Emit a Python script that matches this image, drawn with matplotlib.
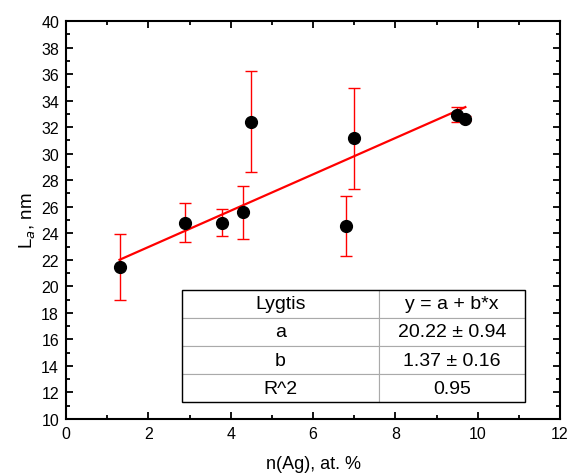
import matplotlib
matplotlib.use("Agg")
import matplotlib.pyplot as plt
from matplotlib.ticker import MultipleLocator
import numpy as np

plt.rcParams['font.family'] = ['Liberation Sans', 'DejaVu Sans']

# measured points
n_ag = [1.3, 2.9, 3.8, 4.3, 4.5, 6.8, 7.0, 9.5, 9.7]
la = [21.45, 24.8, 24.8, 25.6, 32.4, 24.55, 31.15, 32.95, 32.65]
la_err = [2.5, 1.45, 1.0, 2.0, 3.8, 2.25, 3.8, 0.55, 0.2]

# linear fit y = a + b*x
fit_a = 20.22
fit_b = 1.37
fit_x = [1.3, 9.7]

table_rows = [["Lygtis", "y = a + b*x"],
              ["a", "20.22 \u00b1 0.94"],
              ["b", "1.37 \u00b1 0.16"],
              ["R^2", "0.95"]]

fig = plt.figure(figsize=(5.71, 4.77), dpi=100)
ax = fig.add_axes([0.1156, 0.1195, 0.8652, 0.8344])

fx = np.array(fit_x)
ax.plot(fx, fit_a + fit_b * fx, color='red', lw=1.6, zorder=2)
ax.errorbar(n_ag, la, yerr=la_err, fmt='o', color='black', ms=8.5,
            ecolor='red', elinewidth=1.0, capsize=4, capthick=1.0, zorder=3)

ax.set_xlim(0, 12)
ax.set_ylim(10, 40)
ax.xaxis.set_major_locator(MultipleLocator(2))
ax.xaxis.set_minor_locator(MultipleLocator(1))
ax.yaxis.set_major_locator(MultipleLocator(2))
ax.yaxis.set_minor_locator(MultipleLocator(1))
ax.tick_params(which='both', direction='in', top=True, right=True,
               width=1.3, labelsize=11.5)
ax.tick_params(which='major', length=5, pad=5)
ax.tick_params(which='minor', length=3)
for s in ax.spines.values():
    s.set_linewidth(1.5)

ax.set_xlabel("n(Ag), at. %", fontsize=13, labelpad=10)
ax.set_ylabel("L$_a$, nm", fontsize=13.5, labelpad=2)

tb = [0.234, 0.042, 0.695, 0.283]
tbl = ax.table(cellText=table_rows, cellLoc='center', colWidths=[0.574, 0.426],
               bbox=tb, zorder=5)
tbl.auto_set_font_size(False)
tbl.set_fontsize(14)
for (r, c), cell in tbl.get_celld().items():
    cell.set_edgecolor('#aaaaaa')
    cell.set_linewidth(0.8)
    cell.set_facecolor('white')
# outer border in black
ax.add_patch(plt.Rectangle((tb[0], tb[1]), tb[2], tb[3], transform=ax.transAxes,
                           fill=False, edgecolor='black', lw=1.0, zorder=6))

fig.savefig("out.png", dpi=100)
